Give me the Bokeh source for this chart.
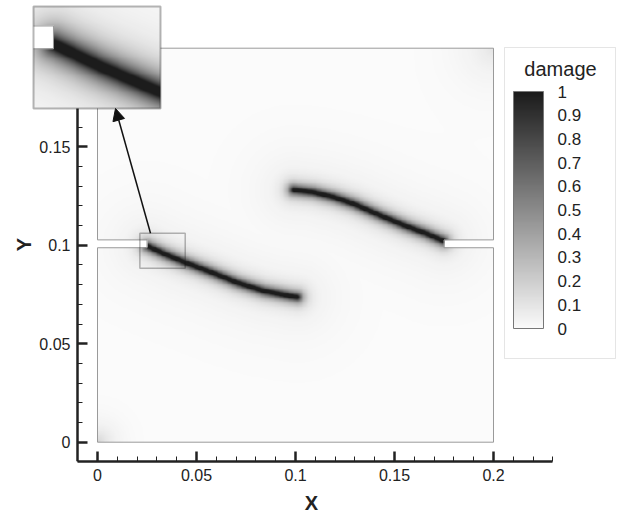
import numpy as np
from bokeh.plotting import figure
from bokeh.models import (Range1d, LinearColorMapper, ColorBar, FixedTicker,
                          BoxAnnotation, Arrow, NormalHead, Label)
from bokeh.embed import file_html
from bokeh.resources import INLINE

# ---------------- data ----------------
plate_size = 0.2
notch_len = 0.025
notch_y = [0.0987, 0.1027]

crack1_x = [0.0251, 0.0335, 0.0436, 0.0571, 0.0706, 0.0840, 0.0975, 0.1009]
crack1_y = [0.0995, 0.0956, 0.0914, 0.0863, 0.0809, 0.0767, 0.0741, 0.0736]
crack2_x = [0.0991, 0.1092, 0.1193, 0.1294, 0.1429, 0.1564, 0.1665, 0.1749]
crack2_y = [0.1281, 0.1269, 0.1244, 0.1210, 0.1151, 0.1095, 0.1058, 0.1022]

x_ticks = [0, 0.05, 0.1, 0.15, 0.2]
x_tick_labels = ["0", "0.05", "0.1", "0.15", "0.2"]
x_minor = [-0.01, 0.01, 0.02, 0.03, 0.04, 0.06, 0.07, 0.08, 0.09, 0.11, 0.12,
           0.13, 0.14, 0.16, 0.17, 0.18, 0.19, 0.21, 0.22, 0.23]
y_ticks = [0, 0.05, 0.1, 0.15]
y_tick_labels = ["0", "0.05", "0.1", "0.15"]
y_minor = [-0.01, 0.01, 0.02, 0.03, 0.04, 0.06, 0.07, 0.08, 0.09, 0.11, 0.12,
           0.13, 0.14, 0.16]

cb_ticks = [0, 0.1, 0.2, 0.3, 0.4, 0.5, 0.6, 0.7, 0.8, 0.9, 1]
cb_labels = ["0", "0.1", "0.2", "0.3", "0.4", "0.5", "0.6", "0.7", "0.8", "0.9", "1"]

zoom_x = [0.0214, 0.0443]
zoom_y = [0.0883, 0.1061]

# ---------------- layout constants (pixels -> data) ----------------
PX_X = 1980.0          # px per data unit horizontally
PX_Y = 1970.0          # px per data unit vertically
ORIGIN_PX = (97.0, 441.7)   # page pixel of data (0, 0)


def dx(px):
    return (px - ORIGIN_PX[0]) / PX_X


def dy(py):
    return (ORIGIN_PX[1] - py) / PX_Y

FRAME_L, FRAME_R, FRAME_T, FRAME_B = 4, 618, 4, 461
inset_box = [dx(33), dx(160), dy(108), dy(6)]     # x0, x1, y0, y1 of the magnified view
cbar_box = [dx(504), dx(615), dy(358), dy(47)]

# ---------------- field rendering ----------------
def polyline_dist(X, Y, xs, ys):
    d = np.full(X.shape, np.inf)
    for i in range(len(xs) - 1):
        ax, ay, bx, by = xs[i], ys[i], xs[i + 1], ys[i + 1]
        vx, vy = bx - ax, by - ay
        t = np.clip(((X - ax) * vx + (Y - ay) * vy) / (vx * vx + vy * vy), 0, 1)
        d = np.minimum(d, np.hypot(X - (ax + t * vx), Y - (ay + t * vy)))
    return d


def damage(x0, x1, y0, y1, nx, ny):
    xs = np.linspace(x0, x1, nx)
    ys = np.linspace(y0, y1, ny)
    X, Y = np.meshgrid(xs, ys)
    d = np.minimum(polyline_dist(X, Y, crack1_x, crack1_y),
                   polyline_dist(X, Y, crack2_x, crack2_y))
    core = np.exp(-np.maximum(d - 0.0006, 0) / 0.0022)
    halo = 0.07 * np.exp(-d / 0.015)
    c1 = 0.18 * np.exp(-np.hypot(X, Y) / 0.006)
    c2 = 0.10 * np.exp(-np.hypot(X - plate_size, Y - plate_size) / 0.012)
    f = np.clip(core + halo + c1 + c2, 0, 1)
    notch = ((Y > notch_y[0]) & (Y < notch_y[1]) &
             ((X < notch_len) | (X > plate_size - notch_len)))
    outside = (X < 0) | (X > plate_size) | (Y < 0) | (Y > plate_size)
    f[notch | outside] = np.nan
    return f

palette = ["#%02x%02x%02x" % (v, v, v) for v in np.linspace(251, 28, 256).astype(int)]
mapper = LinearColorMapper(palette=palette, low=0, high=1, nan_color="white")

outline_x = [0, plate_size, plate_size, plate_size - notch_len, plate_size - notch_len,
             plate_size, plate_size, 0, 0, notch_len, notch_len, 0, 0]
outline_y = [0, 0, notch_y[0], notch_y[0], notch_y[1], notch_y[1], plate_size,
             plate_size, notch_y[1], notch_y[1], notch_y[0], notch_y[0], 0]

FONT = "Liberation Sans"
TXT = "#222222"

# ---------------- figure ----------------
FW = FRAME_R - FRAME_L
FH = FRAME_B - FRAME_T
p = figure(frame_width=FW, frame_height=FH, output_backend="svg", toolbar_location=None,
           x_range=Range1d(dx(FRAME_L), dx(FRAME_R)),
           y_range=Range1d(dy(FRAME_B), dy(FRAME_T)),
           min_border_left=FRAME_L, min_border_right=0, min_border_top=FRAME_T,
           min_border_bottom=0)
p.grid.visible = False
p.outline_line_color = None
p.background_fill_color = "white"

field = damage(0, plate_size, 0, plate_size, 480, 480)
p.image(image=[field], x=0, y=0, dw=plate_size, dh=plate_size, color_mapper=mapper)
p.line(outline_x, outline_y, line_color="#9a9a9a", line_width=1)

axis_x0 = dx(77)
axis_y0 = dy(461)
for ax, ticks, labels, minor, bounds in [
        (p.xaxis[0], x_ticks, x_tick_labels, x_minor, (axis_x0, 0.23)),
        (p.yaxis[0], y_ticks, y_tick_labels, y_minor, (axis_y0, inset_box[2]))]:
    ax.ticker = FixedTicker(ticks=ticks, minor_ticks=minor)
    ax.major_label_overrides = dict(zip(ticks, labels))
    ax.bounds = bounds
    ax.axis_label_text_font = FONT
    ax.axis_label_text_font_style = "bold"
    ax.axis_label_text_font_size = "20px"
    ax.axis_label_text_color = TXT
    ax.axis_label_standoff = 8
    ax.major_label_text_font = FONT
    ax.major_label_text_font_size = "16px"
    ax.major_label_text_color = TXT
    ax.major_label_standoff = 7
    ax.axis_line_width = 2.5
    ax.axis_line_color = TXT
    ax.major_tick_in = 10
    ax.major_tick_out = 0
    ax.minor_tick_in = 5
    ax.minor_tick_out = 0
    ax.major_tick_line_width = 2.5
    ax.major_tick_line_color = TXT
    ax.minor_tick_line_width = 1
    ax.minor_tick_line_color = TXT
p.xaxis[0].axis_label = "X"
p.yaxis[0].fixed_location = axis_x0
p.add_layout(Label(x=dx(23), y=dy(244), text="Y", angle=np.pi / 2, text_align="center",
                   text_baseline="middle", text_font=FONT, text_font_size="20px",
                   text_font_style="bold", text_color=TXT))

# zoom box and arrow
p.add_layout(BoxAnnotation(left=zoom_x[0], right=zoom_x[1], bottom=zoom_y[0], top=zoom_y[1],
                           fill_alpha=0, line_color="#111111", line_width=1.5))

# magnified view drawn into its own box
ix0, ix1, iy0, iy1 = inset_box
zfield = damage(zoom_x[0], zoom_x[1], zoom_y[0], zoom_y[1], 260, 210)
p.image(image=[zfield], x=ix0, y=iy0, dw=ix1 - ix0, dh=iy1 - iy0, color_mapper=mapper)
sx = (ix1 - ix0) / (zoom_x[1] - zoom_x[0])
sy = (iy1 - iy0) / (zoom_y[1] - zoom_y[0])
nx_in = [zoom_x[0], notch_len, notch_len, zoom_x[0]]
ny_in = [notch_y[0], notch_y[0], notch_y[1], notch_y[1]]
p.line([ix0 + (v - zoom_x[0]) * sx for v in nx_in],
       [iy0 + (v - zoom_y[0]) * sy for v in ny_in], line_color="#9a9a9a", line_width=1)
p.add_layout(BoxAnnotation(left=ix0, right=ix1, bottom=iy0, top=iy1,
                           fill_alpha=0, line_color="#111111", line_width=2))

p.add_layout(Arrow(end=NormalHead(size=12, fill_color="#111111", line_color="#111111"),
                   x_start=dx(150), y_start=zoom_y[1], x_end=dx(115), y_end=iy0,
                   line_color="#111111", line_width=1.5))

# colour bar frame, title and colour bar
p.add_layout(BoxAnnotation(left=cbar_box[0], right=cbar_box[1], bottom=cbar_box[2],
                           top=cbar_box[3], fill_alpha=0, line_color="#aaaaaa", line_width=1))
p.add_layout(Label(x=dx(560), y=dy(68), text="damage", text_align="center",
                   text_baseline="middle", text_font=FONT, text_font_size="20px",
                   text_color=TXT))
cb = ColorBar(color_mapper=mapper, ticker=FixedTicker(ticks=cb_ticks),
              major_label_overrides=dict(zip(cb_ticks, cb_labels)),
              width=30, height=237, location=(513 - FRAME_L, FRAME_B - 328), padding=0,
              label_standoff=14, major_label_text_font=FONT,
              major_label_text_font_size="17px", major_label_text_color=TXT,
              major_tick_line_color=None, bar_line_color="#777777",
              border_line_color=None, background_fill_alpha=0)
p.add_layout(cb)

open("out.html", "w").write(file_html(p, INLINE))
